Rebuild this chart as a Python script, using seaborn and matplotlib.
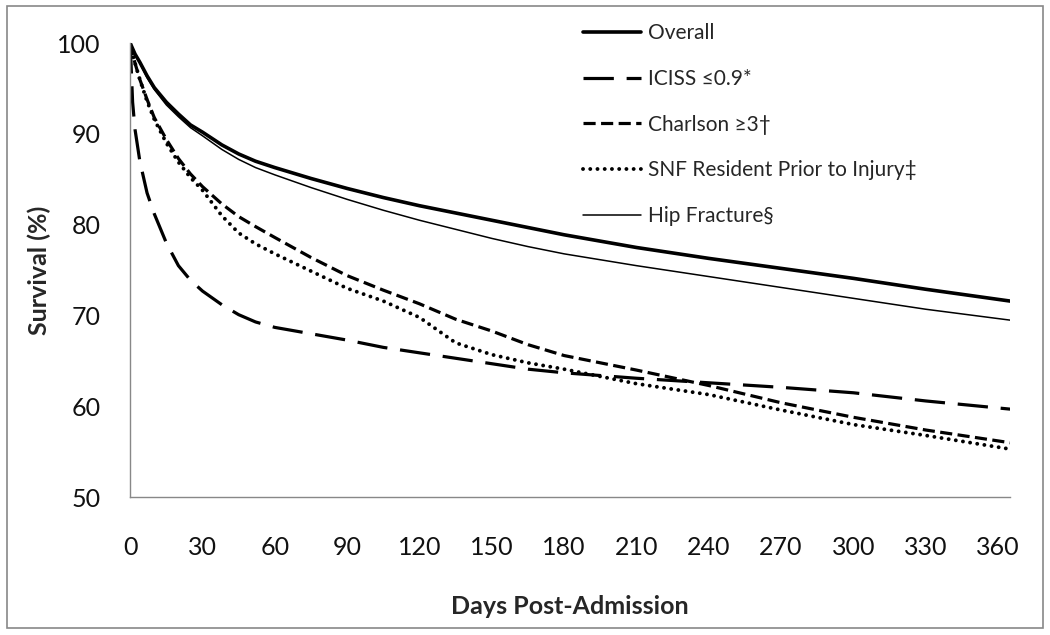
import numpy as np
import pandas as pd
import matplotlib
matplotlib.use('Agg')
import matplotlib.pyplot as plt
import seaborn as sns
from matplotlib.patches import Rectangle

# survival (%), by day post-admission
days = [0, 1, 2, 4, 7, 10, 15, 20, 25, 30, 38, 45, 52, 60, 75, 90, 105,
        120, 135, 150, 165, 180, 210, 240, 270, 300, 330, 365]

overall = [100, 99.4, 98.8, 97.9, 96.4, 95.1, 93.5, 92.2, 91.0, 90.2, 88.8,
           87.8, 87.0, 86.3, 85.1, 84.0, 83.0, 82.1, 81.3, 80.5, 79.7, 78.9,
           77.5, 76.3, 75.2, 74.1, 72.9, 71.6]
iciss = [100, 93.5, 90.5, 87.0, 83.5, 81.2, 78.0, 75.5, 73.9, 72.7, 71.2,
         70.1, 69.3, 68.7, 68.0, 67.3, 66.5, 65.9, 65.3, 64.7, 64.1, 63.7,
         63.1, 62.6, 62.1, 61.5, 60.6, 59.7]
charlson = [100, 98.8, 97.8, 96.0, 93.8, 91.8, 89.4, 87.3, 85.6, 84.2, 82.3,
            80.9, 79.8, 78.6, 76.4, 74.4, 72.8, 71.3, 69.6, 68.3, 66.8, 65.6,
            64.0, 62.3, 60.4, 58.8, 57.4, 56.0]
snf = [100, 98.8, 97.8, 96.0, 93.6, 91.6, 89.0, 86.9, 85.2, 83.8, 81.0,
       79.1, 77.9, 76.8, 74.9, 73.0, 71.6, 69.8, 67.0, 65.7, 64.8, 64.1,
       62.5, 61.3, 59.6, 58.0, 56.8, 55.3]
hip = [100, 99.4, 98.8, 97.8, 96.2, 94.9, 93.2, 91.9, 90.7, 89.8, 88.3,
       87.2, 86.3, 85.5, 84.1, 82.8, 81.6, 80.5, 79.5, 78.5, 77.6, 76.8,
       75.5, 74.3, 73.1, 71.9, 70.7, 69.5]

labels = ['Overall', 'ICISS \u22640.9*', 'Charlson \u22653\u2020',
          'SNF Resident Prior to Injury\u2021', 'Hip Fracture\u00a7']
x_ticks = list(range(0, 361, 30))
y_ticks = [50, 60, 70, 80, 90, 100]

styles = {
    labels[0]: dict(lw=2.6, ls='-'),
    labels[1]: dict(lw=2.3, ls=(0, (9.5, 4))),
    labels[2]: dict(lw=2.3, ls=(0, (3.8, 1.7))),
    labels[3]: dict(lw=2.8, ls=(0, (0.01, 1.85)), dash_capstyle='round'),
    labels[4]: dict(lw=1.1, ls='-'),
}

df = pd.DataFrame({'day': days * 5,
                   'survival': overall + iciss + charlson + snf + hip,
                   'group': np.repeat(labels, len(days))})

sns.set_style('white')
plt.rcParams['font.family'] = ['Lato', 'DejaVu Sans']

fig = plt.figure(figsize=(10.5, 6.35), dpi=100)
ax = fig.add_axes([0.124, 0.217, 0.838, 0.715])

for name in labels:
    st = styles[name]
    sub = df[df['group'] == name]
    sns.lineplot(data=sub, x='day', y='survival', ax=ax, color='black',
                 linewidth=st['lw'], linestyle=st['ls'], label=name,
                 dash_capstyle=st.get('dash_capstyle', 'butt'))

ax.set_xlim(0, 365)
ax.set_ylim(50, 100)
ax.set_xticks(x_ticks)
ax.set_yticks(y_ticks)
ax.tick_params(axis='both', direction='out', color='#888888', width=1,
               labelsize=18, labelcolor='#111111')
ax.tick_params(axis='x', length=7, pad=21)
ax.tick_params(axis='y', length=7.5, pad=14)
for side in ['top', 'right']:
    ax.spines[side].set_visible(False)
for side in ['left', 'bottom']:
    ax.spines[side].set_color('#888888')
    ax.spines[side].set_linewidth(1)

ax.set_xlabel('Days Post-Admission', fontsize=18, fontweight='bold',
              labelpad=26)
ax.set_ylabel('Survival (%)', fontsize=18, fontweight='bold', labelpad=4)

ax.legend(loc='upper left', bbox_to_anchor=(583 / 1050, 1 - 23 / 635),
          bbox_transform=fig.transFigure, frameon=False, fontsize=15,
          handlelength=2.8, handletextpad=0.3, labelspacing=1.24,
          borderpad=0, borderaxespad=0)

fig.patches.append(Rectangle((7 / 1050, 1 - 628 / 635), 1036 / 1050,
                             622 / 635, transform=fig.transFigure,
                             fill=False, edgecolor='#888888', lw=1.2))

fig.savefig('out.png', dpi=100)
